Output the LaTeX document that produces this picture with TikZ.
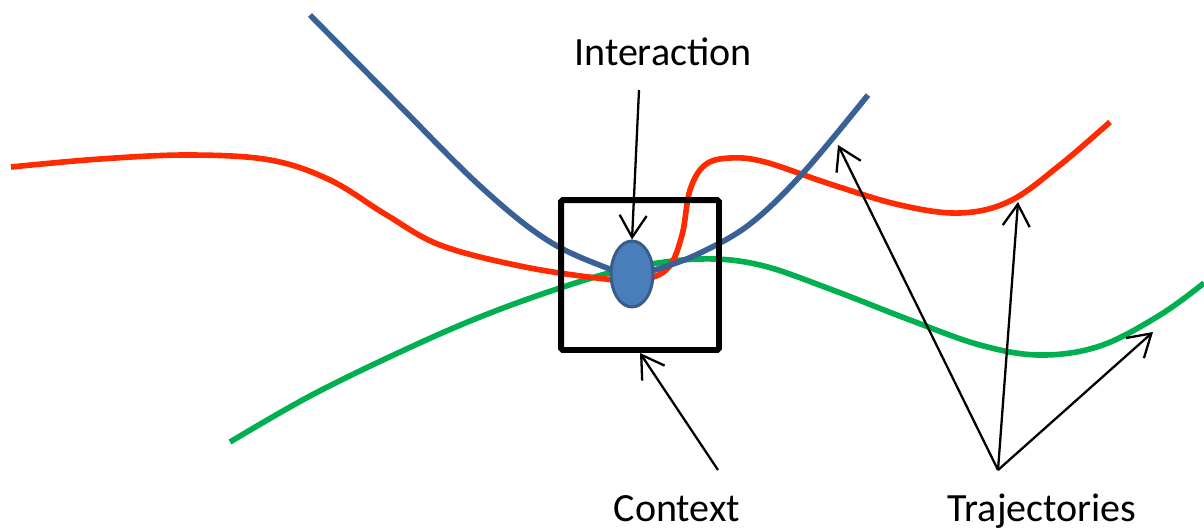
\documentclass[tikz,border=0pt]{standalone}
\usepackage{fontspec}
\setmainfont{Carlito}
\usetikzlibrary{arrows.meta,shapes.geometric,calc}
\definecolor{bluetrj}{HTML}{3A6195}
\definecolor{redtrj}{HTML}{FF2A00}
\definecolor{greentrj}{HTML}{00B050}
\definecolor{ellfill}{HTML}{4A7EBB}
\definecolor{ellline}{HTML}{385D8A}
\begin{document}
\begin{tikzpicture}[x=0.02cm,y=-0.02cm,>={Straight Barb[length=4.4mm,width=5.4mm]},
  curve/.style={line width=3.2pt},
  lbl/.style={font=\fontsize{22.8}{27}\selectfont,anchor=base,inner sep=0pt}]
\useasboundingbox (0,0) rectangle (1204,531);

\draw[curve,greentrj] plot[smooth,tension=0.6] coordinates {(230,442) (310,396) (400,352) (480,317) (560,288) (630,268) (700,259) (760,265) (830,289) (910,320) (980,345) (1040,355) (1100,346) (1160,315) (1204,283)};
\draw[curve,redtrj] plot[smooth,tension=0.6] coordinates {(11,167) (100,159) (190,155) (270,160) (330,180) (385,214) (440,245) (520,266) (597,278) (640,280) (668,268) (682,235) (690,190) (705,165) (730,158) (765,162) (830,184) (900,205) (960,213) (1010,201) (1060,165) (1110,122)};
\draw[curve,bluetrj] plot[smooth,tension=0.6] coordinates {(310,15) (395,101) (480,186) (547,240) (607,268) (632,274) (658,269) (700,253) (750,224) (803,173) (868,95)};

\node[draw,line width=3.4pt,rounded corners=1pt,minimum width=3.16cm,minimum height=3cm] (ctx) at (640,275) {};
\node[ellipse,draw=ellline,fill=ellfill,line width=1.7pt,minimum width=0.84cm,minimum height=1.32cm,inner sep=0pt] (inter) at (632,274) {};

\node[lbl] (interlbl) at (663,65) {Interaction};
\node[lbl] (ctxlbl) at (677,521) {Context};
\node[lbl] (trjlbl) at (1042,521) {Trajectories};

\coordinate (interfoot) at (639,90);
\coordinate (ctxfoot) at (718,470);
\coordinate (trjfoot) at (998,470);
\coordinate (tipblue) at (838,145);
\coordinate (tipred) at (1018,202);
\coordinate (tipgreen) at (1153,332);

\draw[->,line width=1.3pt] (interfoot)--(inter.north);
\draw[->,line width=1.3pt] (ctxfoot)--(ctx.south);
\foreach \t in {tipblue,tipred,tipgreen}
{
   \draw[->,line width=1.3pt] (trjfoot)--(\t);
}
\end{tikzpicture}
\end{document}
